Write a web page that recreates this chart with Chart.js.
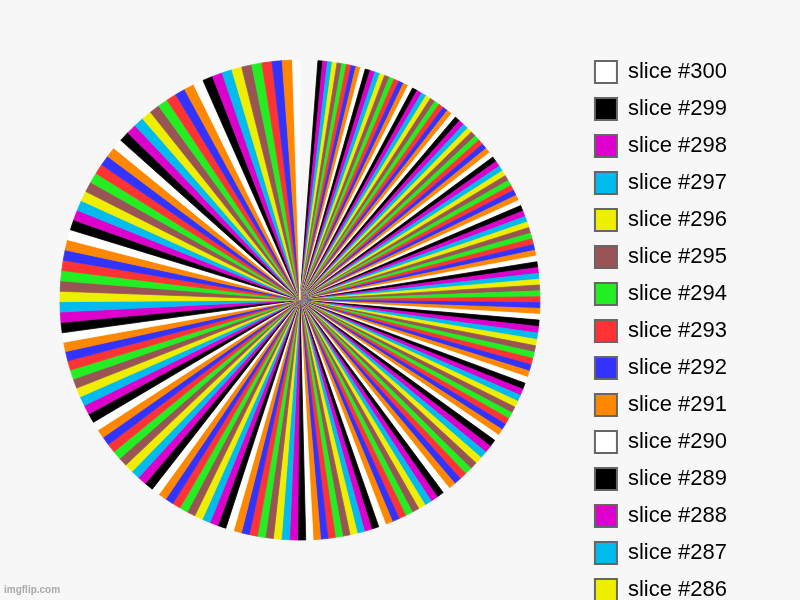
<!DOCTYPE html>
<html>
<head>
<meta charset="utf-8">
<script src="https://cdn.jsdelivr.net/npm/chart.js@4.4.1/dist/chart.umd.min.js"></script>
<style>
  html, body { margin: 0; padding: 0; width: 800px; height: 600px; overflow: hidden; background: #f7f7f7; }
  #wrap { position: absolute; left: 0; top: -16px; width: 800px; height: 632px; }
  #mark { position: absolute; left: 4px; top: 585px; font: bold 10px 'Liberation Sans', Arial, sans-serif; line-height: 10px; color: #aaaaaa; }
</style>
</head>
<body>
<div id="wrap"><canvas id="c" width="800" height="632"></canvas></div>
<div id="mark">imgflip.com</div>
<script>
// Slice labels, in the order they are drawn (clockwise from 12 o'clock)
const sliceLabels = [
  "slice #300",
  "slice #299","slice #298","slice #297","slice #296","slice #295","slice #294","slice #293","slice #292","slice #291","slice #290",
  "slice #289","slice #288","slice #287","slice #286","slice #285","slice #284","slice #283","slice #282","slice #281","slice #280",
  "slice #279","slice #278","slice #277","slice #276","slice #275","slice #274","slice #273","slice #272","slice #271","slice #270",
  "slice #269","slice #268","slice #267","slice #266","slice #265","slice #264","slice #263","slice #262","slice #261","slice #260",
  "slice #259","slice #258","slice #257","slice #256","slice #255","slice #254","slice #253","slice #252","slice #251","slice #250",
  "slice #249","slice #248","slice #247","slice #246","slice #245","slice #244","slice #243","slice #242","slice #241","slice #240",
  "slice #239","slice #238","slice #237","slice #236","slice #235","slice #234","slice #233","slice #232","slice #231","slice #230",
  "slice #229","slice #228","slice #227","slice #226","slice #225","slice #224","slice #223","slice #222","slice #221","slice #220",
  "slice #219","slice #218","slice #217","slice #216","slice #215","slice #214","slice #213","slice #212","slice #211","slice #210",
  "slice #209","slice #208","slice #207","slice #206","slice #205","slice #204","slice #203","slice #202","slice #201","slice #200",
  "slice #199","slice #198","slice #197","slice #196","slice #195","slice #194","slice #193","slice #192","slice #191","slice #190",
  "slice #189","slice #188","slice #187","slice #186","slice #185","slice #184","slice #183","slice #182","slice #181","slice #180",
  "slice #179","slice #178","slice #177","slice #176","slice #175","slice #174","slice #173","slice #172","slice #171","slice #170",
  "slice #169","slice #168","slice #167","slice #166","slice #165","slice #164","slice #163","slice #162","slice #161","slice #160",
  "slice #159","slice #158","slice #157","slice #156","slice #155","slice #154","slice #153","slice #152","slice #151","slice #150",
  "slice #149","slice #148","slice #147","slice #146","slice #145","slice #144","slice #143","slice #142","slice #141","slice #140",
  "slice #139","slice #138","slice #137","slice #136","slice #135","slice #134","slice #133","slice #132","slice #131","slice #130",
  "slice #129","slice #128","slice #127","slice #126","slice #125","slice #124","slice #123","slice #122","slice #121","slice #120",
  "slice #119","slice #118","slice #117","slice #116","slice #115","slice #114","slice #113","slice #112","slice #111","slice #110",
  "slice #109","slice #108","slice #107","slice #106","slice #105","slice #104","slice #103","slice #102","slice #101","slice #100"
];

// Estimated slice sizes (read from the angular widths in the picture)
const sliceValues = [
  43,
  11.5,11.5,11.5,11.5,11.5,11.5,11.5,11.5,11.5,11.5,
  12.2,12.2,12.2,12.2,12.2,12.2,12.2,12.2,12.2,12.2,
  12.4,12.4,12.4,12.4,12.4,12.4,12.4,12.4,12.4,12.4,
  13.1,13.1,13.1,13.1,13.1,13.1,13.1,13.1,13.1,13.1,
  13.4,13.4,13.4,13.4,13.4,13.4,13.4,13.4,13.4,13.4,
  14.0,14.0,14.0,14.0,14.0,14.0,14.0,14.0,14.0,14.0,
  14.0,14.0,14.0,14.0,14.0,14.0,14.0,14.0,14.0,14.0,
  15.5,15.5,15.5,15.5,15.5,15.5,15.5,15.5,15.5,15.5,
  15.5,15.5,15.5,15.5,15.5,15.5,15.5,15.5,15.5,15.5,
  17.6,17.6,17.6,17.6,17.6,17.6,17.6,17.6,17.6,17.6,
  17.5,17.5,17.5,17.5,17.5,17.5,17.5,17.5,17.5,17.5,
  17.8,17.8,17.8,17.8,17.8,17.8,17.8,17.8,17.8,17.8,
  19.4,19.4,19.4,19.4,19.4,19.4,19.4,19.4,19.4,19.4,
  20.0,20.0,20.0,20.0,20.0,20.0,20.0,20.0,20.0,20.0,
  21.4,21.4,21.4,21.4,21.4,21.4,21.4,21.4,21.4,21.4,
  22.8,22.8,22.8,22.8,22.8,22.8,22.8,22.8,22.8,22.8,
  24.9,24.9,24.9,24.9,24.9,24.9,24.9,24.9,24.9,24.9,
  24.7,24.7,24.7,24.7,24.7,24.7,24.7,24.7,24.7,24.7,
  24.5,24.5,24.5,24.5,24.5,24.5,24.5,24.5,24.5,24.5,
  24.5,24.5,24.5,24.5,24.5,24.5,24.5,24.5,24.5,18
];

// Colour cycle by last digit of the slice number
const palette = ['#ffffff','#ff8800','#3333ff','#ff3333','#22ee22','#995555','#eeee00','#00bbee','#dd00cc','#000000'];
// slice #300 is drawn in the background colour in the picture (an empty wedge)
const emptySlices = ["slice #300"];

function legendColor(label) {
  const n = parseInt(label.replace('slice #', ''), 10);
  return palette[n % 10];
}
const arcColors = sliceLabels.map(l => emptySlices.includes(l) ? 'rgba(0,0,0,0)' : legendColor(l));

const FONT = "'Liberation Sans', Arial, sans-serif";

new Chart(document.getElementById('c'), {
  type: 'pie',
  data: {
    labels: sliceLabels,
    datasets: [{
      data: sliceValues,
      backgroundColor: arcColors,
      borderColor: arcColors,
      borderWidth: 0.8,
      radius: 240,
      hoverOffset: 0
    }]
  },
  options: {
    responsive: false,
    animation: false,
    layout: { padding: { left: 20, right: 63, top: 0, bottom: 0 } },
    plugins: {
      tooltip: { enabled: false },
      legend: {
        position: 'right',
        align: 'end',
        labels: {
          boxWidth: 22,
          boxHeight: 22,
          padding: 15,
          color: '#000000',
          font: { size: 22, family: FONT },
          filter: (item) => item.index < 15,
          generateLabels: (chart) => {
            const base = Chart.overrides.doughnut.plugins.legend.labels.generateLabels(chart);
            return base.map(it => Object.assign(it, {
              fillStyle: legendColor(sliceLabels[it.index]),
              strokeStyle: '#666666',
              lineWidth: 2
            }));
          }
        }
      }
    }
  }
});
</script>
</body>
</html>
